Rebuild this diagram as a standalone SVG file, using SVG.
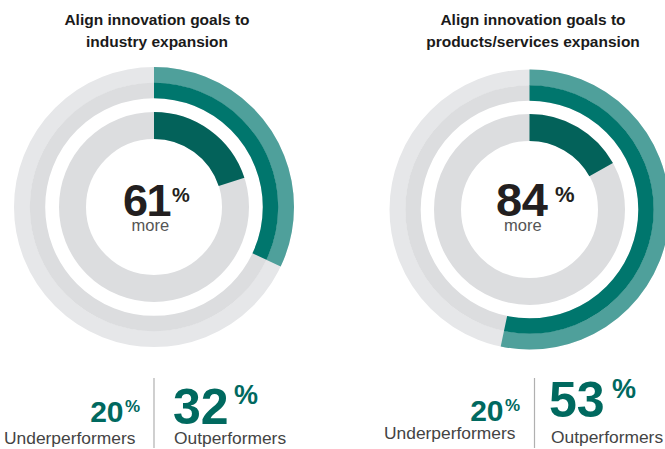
<svg xmlns="http://www.w3.org/2000/svg" width="665" height="449" viewBox="0 0 665 449">
<style>
.ring{fill:none}
.g1{stroke:#e6e7e9}
.g2{stroke:#dcdddf}
.t1{stroke:#4fa09b}
.t2{stroke:#00766d}
.t3{stroke:#03625a}
.title{font-family:"Liberation Sans",Arial,sans-serif;font-weight:bold;font-size:15.5px;fill:#1a1a1a;text-anchor:middle}
.big{font-family:"Liberation Sans",Arial,sans-serif;font-weight:bold;fill:#231f20}
.more{font-family:"Liberation Sans",Arial,sans-serif;font-size:16.5px;fill:#555}
.num{font-family:"Liberation Sans",Arial,sans-serif;font-weight:bold;fill:#00695f}
.lbl{font-family:"Liberation Sans",Arial,sans-serif;font-size:17.4px;fill:#444}
.div{stroke:#b0b0b0;stroke-width:1.2}
</style>
<rect width="665" height="449" fill="#fff"/>
<g id="chart-left">
<text class="title" x="157" y="25">Align innovation goals to</text>
<text class="title" x="157" y="47">industry expansion</text>
<g transform="rotate(-90 154 207)">
<circle class="ring g1" cx="154" cy="207" r="132" stroke-width="16"/>
<circle class="ring g2" cx="154" cy="207" r="116.5" stroke-width="15.4"/>
<circle class="ring g2" cx="154" cy="207" r="81.5" stroke-width="27"/>
<circle class="ring t1" cx="154" cy="207" r="132" stroke-width="16" pathLength="100" stroke-dasharray="32 100"/>
<circle class="ring t2" cx="154" cy="207" r="116.5" stroke-width="15.4" pathLength="100" stroke-dasharray="32 100"/>
<circle class="ring t3" cx="154" cy="207" r="81.5" stroke-width="27" pathLength="100" stroke-dasharray="20 100"/>
</g>
<text class="big" x="123" y="216" font-size="45" letter-spacing="-1.5">61</text>
<text class="big" x="172" y="201.5" font-size="20">%</text>
<text class="more" x="131.5" y="230.5">more</text>
<text class="num" x="123.5" y="421.5" font-size="30" text-anchor="end">20</text>
<text class="num" x="125" y="411.5" font-size="17">%</text>
<text class="lbl" x="4" y="444">Underperformers</text>
<line class="div" x1="154" y1="378" x2="154" y2="448"/>
<text class="num" x="173" y="423.5" font-size="50">32</text>
<text class="num" x="234" y="404" font-size="27">%</text>
<text class="lbl" x="174" y="444">Outperformers</text>
</g>
<g id="chart-right">
<text class="title" x="533" y="25">Align innovation goals to</text>
<text class="title" x="533" y="47">products/services expansion</text>
<g transform="rotate(-90 529.5 209.5)">
<circle class="ring g1" cx="529.5" cy="209.5" r="132" stroke-width="16"/>
<circle class="ring g2" cx="529.5" cy="209.5" r="116.5" stroke-width="15.4"/>
<circle class="ring g2" cx="529.5" cy="209.5" r="82" stroke-width="27"/>
<circle class="ring t1" cx="529.5" cy="209.5" r="132" stroke-width="16" pathLength="100" stroke-dasharray="53.3 100"/>
<circle class="ring t2" cx="529.5" cy="209.5" r="116.5" stroke-width="15.4" pathLength="100" stroke-dasharray="53.3 100"/>
<circle class="ring t3" cx="529.5" cy="209.5" r="82" stroke-width="27" pathLength="100" stroke-dasharray="16.9 100"/>
</g>
<text class="big" x="496" y="216" font-size="47" letter-spacing="-0.5">84</text>
<text class="big" x="555" y="201.5" font-size="22">%</text>
<text class="more" x="504" y="230.5">more</text>
<text class="num" x="503.5" y="420.5" font-size="30" text-anchor="end">20</text>
<text class="num" x="505" y="410.5" font-size="17">%</text>
<text class="lbl" x="384" y="438.5">Underperformers</text>
<line class="div" x1="534.5" y1="378" x2="534.5" y2="448"/>
<text class="num" x="549" y="417" font-size="50">53</text>
<text class="num" x="612" y="398" font-size="27">%</text>
<text class="lbl" x="551" y="443">Outperformers</text>
</g>
</svg>
